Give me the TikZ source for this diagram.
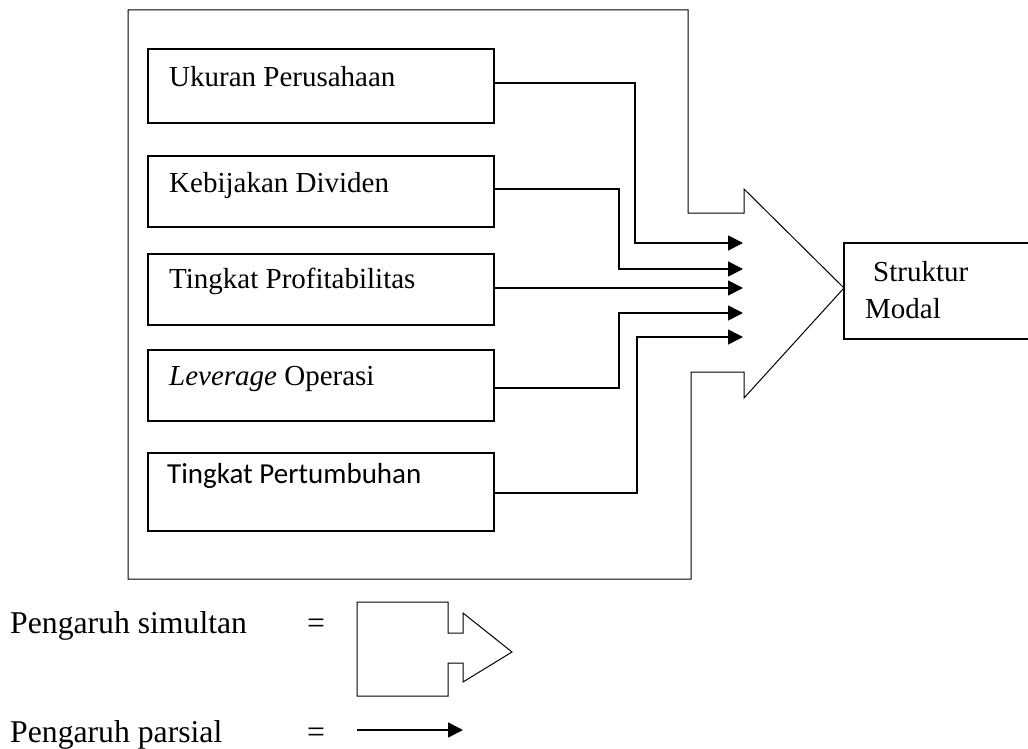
\documentclass[tikz,border=0pt]{standalone}
\usepackage{fontspec}
\setmainfont{Liberation Serif}
\newfontfamily\calibri{Carlito}
\usetikzlibrary{arrows.meta}
\tikzset{
  box/.style={draw, line width=1.3pt, minimum width=346pt, inner sep=0pt},
  lbl/.style={anchor=base west, inner sep=0pt, font=\fontsize{29}{34}\selectfont},
  leg/.style={anchor=base west, inner sep=0pt, font=\fontsize{31.7}{36}\selectfont},
  conn/.style={line width=1.6pt, -{Triangle[length=15pt,width=15pt]}},
  simul/.style={line width=1pt, line join=miter}
}
\begin{document}
\begin{tikzpicture}[x=1pt,y=-1pt]
   \useasboundingbox (0,0) rectangle (1028,749);
   % big arrow round the variables
   \draw[simul] (128,10) -- (688,10) -- (688,213) -- (744,213) -- (744,189)
   -- (844,288) -- (744,398) -- (744,372) -- (691,372) -- (691,579)
   -- (128,579) -- cycle;
   % independent variables
   \node[box, minimum height=74pt] (ukuran) at (321,86) {};
   \node[box, minimum height=71pt] (dividen) at (321,191.5) {};
   \node[box, minimum height=71pt] (profit) at (321,289.5) {};
   \node[box, minimum height=71pt] (leverage) at (321,385.5) {};
   \node[box, minimum height=78pt] (tumbuh) at (321,492) {};
   \node[lbl] (tukuran) at (169,87) {Ukuran Perusahaan};
   \node[lbl] (tdividen) at (169,193) {Kebijakan Dividen};
   \node[lbl] (tprofit) at (169,288) {Tingkat Profitabilitas};
   \node[lbl] (tleverage) at (169,385) {\textit{Leverage} Operasi};
   \node[lbl, font=\fontsize{29}{34}\calibri] (ttumbuh) at (167,483) {Tingkat Pertumbuhan};
   % dependent variable
   \node[draw, line width=1.3pt, minimum width=200pt, minimum height=96pt,
     inner sep=0pt] (modal) at (944,291) {};
   \node[lbl] (tstruktur) at (873,281) {Struktur};
   \node[lbl] (tmodal) at (865,318) {Modal};
   % arrow ends
   \coordinate (e1) at (743,243);
   \coordinate (e2) at (743,269);
   \coordinate (e3) at (743,288);
   \coordinate (e4) at (743,313);
   \coordinate (e5) at (743,337);
   \draw[conn] ([yshift=3pt]ukuran.east) -| ([xshift=-108pt]e1) -- (e1);
   \draw[conn] ([yshift=2.5pt]dividen.east) -| ([xshift=-124pt]e2) -- (e2);
   \draw[conn] (profit.east |- e3) -- (e3);
   \draw[conn] ([yshift=-2.5pt]leverage.east) -| ([xshift=-124pt]e4) -- (e4);
   \draw[conn] ([yshift=-1pt]tumbuh.east) -| ([xshift=-106pt]e5) -- (e5);
   % legend
   \node[leg] (simultan) at (10,633) {Pengaruh simultan};
   \node[leg] (eq1) at (307,633) {=};
   \draw[simul] (357,602) -- (448,602) -- (448,633) -- (463,633) -- (463,613)
   -- (512,652) -- (463,682) -- (463,663) -- (448,663) -- (448,696)
   -- (357,696) -- cycle;
   \node[leg] (parsial) at (10,742) {Pengaruh parsial};
   \node[leg] (eq2) at (307,742) {=};
   \coordinate (p0) at (357,730);
   \coordinate (p1) at (463,730);
   \draw[conn] (p0) -- (p1);
\end{tikzpicture}
\end{document}
